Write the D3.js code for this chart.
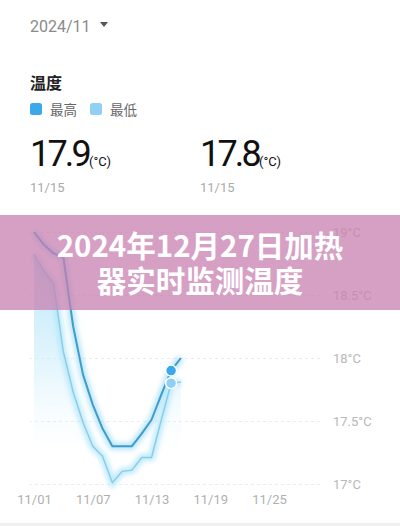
<!DOCTYPE html>
<html>
<head>
<meta charset="utf-8">
<script src="https://cdn.jsdelivr.net/npm/d3@7"></script>
<style>
  html, body { margin: 0; padding: 0; background: #fff; }
  svg { display: block; font-family: "Noto Sans CJK SC", "Noto Sans", sans-serif; }
</style>
</head>
<body>
<svg id="chart" width="400" height="526"></svg>
<script>
// days of November shown on the chart
const days = [1, 2, 3, 4, 5, 6, 7, 8, 9, 10, 11, 12, 13, 14, 15, 16];
const highTemps = [19.0, 18.9, 18.83, 18.8, 18.25, 17.87, 17.63, 17.44, 17.3, 17.3, 17.3, 17.4, 17.51, 17.71, 17.9, 18.0];
const lowTemps = [18.82, 18.69, 18.59, 18.05, 17.73, 17.49, 17.3, 17.22, 17.01, 17.1, 17.11, 17.21, 17.21, 17.51, 17.8, 17.81];
const xTicks = [1, 7, 13, 19, 25];
const xTickLabels = ["11/01", "11/07", "11/13", "11/19", "11/25"];
const yTicks = [17, 17.5, 18, 18.5, 19];
const yTickLabels = ["17°C", "17.5°C", "18°C", "18.5°C", "19°C"];
const legendNames = ["最高", "最低"];
const legendColors = ["#3aa8ea", "#8fd0f4"];
const selDay = 15;
const selLabel = "11/15";
const titleLines = ["2024年12月27日加热", "器实时监测温度"];

const svg = d3.select("#chart");

const x = d3.scaleLinear().domain([1, 30]).range([34, 318]);
const y = d3.scaleLinear().domain([17, 19]).range([484, 232]);

// header
svg.append("text").attr("x", 30).attr("y", 32)
  .attr("font-size", 16).attr("font-family", "Roboto, sans-serif")
  .attr("fill", "#8a8a8a").text("2024/11");
svg.append("path").attr("d", "M100,22 L108,22 L104,27 Z").attr("fill", "#555");

svg.append("text").attr("x", 30).attr("y", 89)
  .attr("font-size", 16).attr("font-weight", 700).attr("fill", "#222").text("温度");

const legend = svg.append("g").selectAll("g")
  .data(legendNames).enter().append("g")
  .attr("transform", (d, i) => `translate(${30 + i * 60},103)`);
legend.append("rect").attr("width", 12).attr("height", 12).attr("rx", 2.5)
  .attr("fill", (d, i) => legendColors[i]);
legend.append("text").attr("x", 20).attr("y", 11.5)
  .attr("font-size", 13.5).attr("fill", "#666").text(d => d);

// current values
const selIndex = days.indexOf(selDay);
const bigValues = [highTemps[selIndex], lowTemps[selIndex]];
const big = svg.append("g").selectAll("g")
  .data(bigValues).enter().append("g")
  .attr("transform", (d, i) => `translate(${30 + i * 170},0)`);
const bigText = big.append("text").attr("y", 166).attr("fill", "#111")
  .attr("font-family", "Roboto, sans-serif");
bigText.append("tspan").attr("font-size", 36).attr("letter-spacing", -2.8)
  .text(d => d3.format(".1f")(d));
bigText.append("tspan").attr("font-size", 13).attr("dx", 0).text("(°C)");
big.append("text").attr("y", 192).attr("font-size", 13)
  .attr("font-family", "Roboto, sans-serif").attr("fill", "#aaa").text(selLabel);

// defs
const defs = svg.append("defs");
const grad = defs.append("linearGradient").attr("id", "fillGrad")
  .attr("gradientUnits", "userSpaceOnUse")
  .attr("x1", 0).attr("x2", 0).attr("y1", y(19)).attr("y2", y(17.25));
grad.append("stop").attr("offset", 0).attr("stop-color", "#9fdcf6").attr("stop-opacity", 0.8);
grad.append("stop").attr("offset", 0.55).attr("stop-color", "#c4ebfb").attr("stop-opacity", 0.55);
grad.append("stop").attr("offset", 1).attr("stop-color", "#e6f6fd").attr("stop-opacity", 0);
defs.append("filter").attr("id", "glow")
  .attr("x", "-20%").attr("y", "-20%").attr("width", "140%").attr("height", "140%")
  .append("feGaussianBlur").attr("stdDeviation", 2.5);

// grid + y labels
const yAxis = svg.append("g")
  .attr("transform", "translate(320,0)")
  .call(d3.axisRight(y).tickValues(yTicks).tickSize(-290)
    .tickFormat((d, i) => yTickLabels[i]));
yAxis.select(".domain").remove();
yAxis.selectAll("line").attr("stroke", "#ececec").attr("stroke-dasharray", "3,3");
yAxis.selectAll("text").attr("x", 13).attr("font-size", 13)
  .attr("font-family", "Roboto, sans-serif").attr("fill", "#b8b8b8");

// x labels
const xAxis = svg.append("g")
  .attr("transform", "translate(0,492)")
  .call(d3.axisBottom(x).tickValues(xTicks).tickSize(0)
    .tickFormat((d, i) => xTickLabels[i]));
xAxis.select(".domain").remove();
xAxis.selectAll("text").attr("font-size", 13)
  .attr("font-family", "Roboto, sans-serif").attr("fill", "#b0b0b0");

// area + lines
const area = d3.area()
  .x((d, i) => x(days[i]))
  .y0(y(17.25))
  .y1(d => y(d));
svg.append("path").datum(lowTemps)
  .attr("d", area).attr("fill", "url(#fillGrad)");

const line = d3.line()
  .x((d, i) => x(days[i]))
  .y(d => y(d));

const series = [
  { values: lowTemps, color: "#86cdea", glow: "#a9e3f8", width: 1.4 },
  { values: highTemps, color: "#3f9dcc", glow: "#9fdcf6", width: 2 },
];
svg.append("g").selectAll("path")
  .data(series).enter().append("path")
  .attr("d", d => line(d.values))
  .attr("fill", "none")
  .attr("stroke", d => d.glow)
  .attr("stroke-width", 7)
  .attr("stroke-opacity", 0.75)
  .attr("filter", "url(#glow)");
svg.append("g").selectAll("path")
  .data(series).enter().append("path")
  .attr("d", d => line(d.values))
  .attr("fill", "none")
  .attr("stroke", d => d.color)
  .attr("stroke-width", d => d.width)
  .attr("stroke-linejoin", "round");

// selected day markers
svg.append("g").selectAll("circle")
  .data(bigValues).enter().append("circle")
  .attr("cx", x(selDay))
  .attr("cy", d => y(d))
  .attr("r", 5.5)
  .attr("fill", (d, i) => legendColors[i])
  .attr("stroke", "#fff")
  .attr("stroke-width", 1.5);

// banner
svg.append("rect").attr("x", 0).attr("y", 215).attr("width", 400).attr("height", 95)
  .attr("fill", "#c880b0").attr("fill-opacity", 0.75);
svg.append("g").selectAll("text")
  .data(titleLines).enter().append("text")
  .attr("x", 200)
  .attr("y", (d, i) => 257 + i * 35)
  .attr("text-anchor", "middle")
  .attr("font-size", 29.5)
  .attr("font-weight", 700)
  .attr("fill", "#fff")
  .text(d => d);

// bottom strip
svg.append("rect").attr("x", 0).attr("y", 523).attr("width", 400).attr("height", 3)
  .attr("fill", "#f0f0f0");
</script>
</body>
</html>
